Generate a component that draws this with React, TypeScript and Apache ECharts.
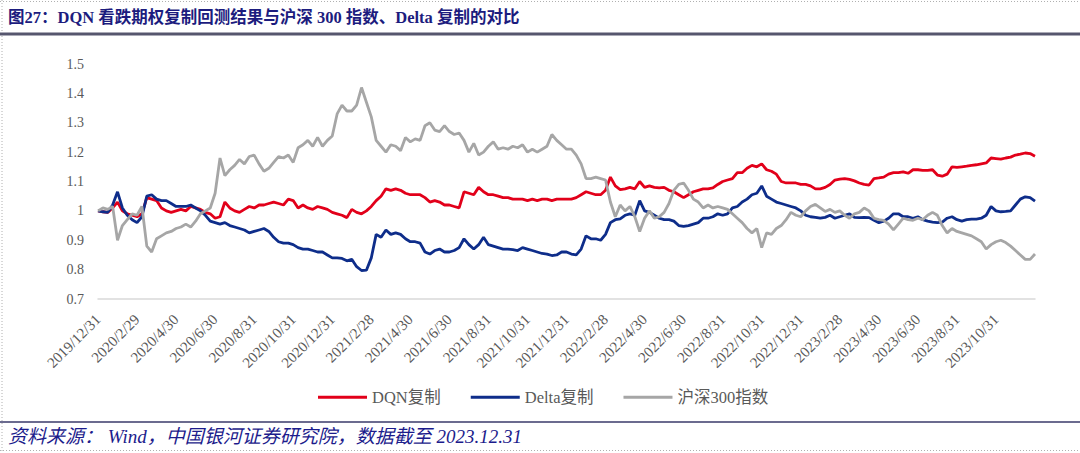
import React, { useEffect, useRef } from "react";
import * as echarts from "echarts";

// ---- data ----
const startDate = "2019/12/31";
const years = [2020, 2021, 2022, 2023];
const sampleDays = [8, 15, 23]; // weekly samples inside each month, plus the month end

const tickLabels = [
  "2019/12/31", "2020/2/29", "2020/4/30", "2020/6/30", "2020/8/31", "2020/10/31",
  "2020/12/31", "2021/2/28", "2021/4/30", "2021/6/30", "2021/8/31", "2021/10/31",
  "2021/12/31", "2022/2/28", "2022/4/30", "2022/6/30", "2022/8/31", "2022/10/31",
  "2022/12/31", "2023/2/28", "2023/4/30", "2023/6/30", "2023/8/31", "2023/10/31",
];

const yTicks = [0.7, 0.8, 0.9, 1.0, 1.1, 1.2, 1.3, 1.4, 1.5];

const legendNames = ["DQN复制", "Delta复制", "沪深300指数"];

const dqn = [
  1.0,
  0.997, 0.995, 1.01, 1.03, 1.0, 0.99, 0.985, 0.98,
  0.99, 1.045, 1.04, 1.035, 1.01, 1.0, 0.995, 1.0,
  1.005, 1.0, 1.015, 1.01, 1.005, 0.995, 0.99, 0.975,
  0.98, 1.03, 1.01, 1.0, 0.995, 1.005, 1.015, 1.01,
  1.02, 1.02, 1.025, 1.03, 1.025, 1.02, 1.04, 1.035,
  1.01, 1.02, 1.01, 1.005, 1.015, 1.01, 1.005, 0.995,
  0.99, 0.985, 0.977, 1.005, 0.995, 0.99, 1.0, 1.015,
  1.035, 1.05, 1.075, 1.07, 1.075, 1.07, 1.06, 1.055,
  1.055, 1.055, 1.045, 1.03, 1.035, 1.03, 1.02, 1.02,
  1.015, 1.01, 1.065, 1.06, 1.055, 1.08, 1.065, 1.055,
  1.055, 1.05, 1.045, 1.045, 1.04, 1.04, 1.04, 1.035,
  1.04, 1.035, 1.04, 1.04, 1.035, 1.04, 1.04, 1.04,
  1.04, 1.045, 1.055, 1.065, 1.06, 1.055, 1.055, 1.07,
  1.115, 1.085, 1.072, 1.075, 1.08, 1.075, 1.1, 1.08,
  1.085, 1.08, 1.078, 1.08, 1.07, 1.065, 1.055, 1.045,
  1.055, 1.065, 1.07, 1.075, 1.075, 1.078, 1.09, 1.1,
  1.105, 1.11, 1.13, 1.13, 1.145, 1.155, 1.15, 1.16,
  1.14, 1.135, 1.125, 1.1, 1.095, 1.095, 1.095, 1.09,
  1.09, 1.085, 1.075, 1.075, 1.08, 1.09, 1.105, 1.108,
  1.11, 1.107, 1.102, 1.095, 1.09, 1.088, 1.11, 1.112,
  1.115, 1.125, 1.13, 1.13, 1.133, 1.128, 1.14, 1.14,
  1.138, 1.138, 1.14, 1.122, 1.118, 1.125, 1.15, 1.148,
  1.15, 1.152, 1.155, 1.157, 1.16, 1.163, 1.18, 1.178,
  1.176, 1.18, 1.183, 1.19, 1.193, 1.197, 1.195, 1.186,
];

const delta = [
  1.0,
  0.997, 0.995, 1.02, 1.065, 1.01, 0.985, 0.97, 0.96,
  0.98, 1.05, 1.055, 1.04, 1.035, 1.035, 1.025, 1.015,
  1.015, 1.015, 1.02, 1.01, 1.0, 0.985, 0.965, 0.96,
  0.955, 0.96, 0.95, 0.945, 0.94, 0.935, 0.925, 0.93,
  0.935, 0.94, 0.93, 0.91, 0.895, 0.89, 0.89, 0.885,
  0.875, 0.87, 0.87, 0.865, 0.86, 0.86, 0.85, 0.84,
  0.84, 0.838, 0.83, 0.835, 0.81, 0.797, 0.798, 0.84,
  0.92, 0.91, 0.935, 0.92, 0.925, 0.92, 0.905, 0.895,
  0.895, 0.89, 0.86, 0.853, 0.865, 0.87, 0.86, 0.86,
  0.865, 0.875, 0.905, 0.885, 0.87, 0.885, 0.91, 0.885,
  0.88, 0.875, 0.87, 0.87, 0.868, 0.865, 0.875, 0.87,
  0.865, 0.86, 0.855, 0.853, 0.848, 0.85, 0.86, 0.86,
  0.853, 0.85, 0.87, 0.915, 0.905, 0.905, 0.9, 0.92,
  0.96, 0.97, 0.973, 0.985, 0.99, 0.985, 1.035, 1.0,
  0.995, 0.985, 0.975, 0.97, 0.97, 0.965, 0.95, 0.947,
  0.95, 0.955, 0.96, 0.975, 0.975, 0.98, 0.99, 0.985,
  0.99, 1.01, 1.015, 1.03, 1.04, 1.055, 1.06, 1.085,
  1.05, 1.04, 1.03, 1.025, 1.02, 1.015, 1.01, 1.0,
  0.985, 0.98, 0.978, 0.975, 0.978, 0.985, 0.975, 0.98,
  0.985, 0.99, 0.978, 0.977, 0.978, 0.977, 0.968, 0.96,
  0.965, 0.975, 0.99, 0.99, 0.98, 0.98, 0.975, 0.98,
  0.97, 0.965, 0.962, 0.96, 0.962, 0.975, 0.98, 0.97,
  0.965, 0.97, 0.972, 0.972, 0.975, 0.985, 1.015, 1.0,
  0.997, 0.998, 1.0, 1.02, 1.04, 1.048, 1.045, 1.033,
];

const hs300 = [
  1.0,
  1.01, 1.005, 1.015, 0.9, 0.95, 0.97, 0.99, 0.985,
  1.015, 0.88, 0.86, 0.905, 0.915, 0.925, 0.93, 0.94,
  0.945, 0.955, 0.945, 0.965, 0.99, 1.0, 1.01, 1.06,
  1.18, 1.12, 1.14, 1.155, 1.175, 1.16, 1.185, 1.19,
  1.16, 1.135, 1.145, 1.165, 1.185, 1.18, 1.19, 1.165,
  1.215, 1.225, 1.24, 1.22, 1.25, 1.22, 1.24, 1.255,
  1.33, 1.36, 1.34, 1.34, 1.36, 1.42, 1.37, 1.32,
  1.24, 1.22, 1.2, 1.225, 1.22, 1.205, 1.25, 1.235,
  1.245, 1.24, 1.29, 1.3, 1.275, 1.27, 1.29, 1.27,
  1.26, 1.265, 1.24, 1.2, 1.23, 1.19, 1.2, 1.22,
  1.235, 1.21, 1.215, 1.21, 1.22, 1.215, 1.225, 1.2,
  1.21, 1.2, 1.21, 1.22, 1.26, 1.24, 1.225, 1.21,
  1.21, 1.19, 1.16, 1.11, 1.11, 1.115, 1.11, 1.105,
  1.03, 0.98, 1.02, 1.0, 1.015, 0.98, 0.93, 0.975,
  1.0, 0.975, 0.98, 0.995, 1.025, 1.07, 1.09, 1.095,
  1.07, 1.04, 1.03, 1.01, 1.02, 1.01, 1.015, 1.01,
  1.005, 0.99, 0.975, 0.96, 0.94, 0.925, 0.94, 0.875,
  0.925, 0.92, 0.94, 0.95, 0.97, 0.995, 0.985, 0.98,
  1.0, 1.015, 1.022, 1.01, 0.998, 1.005, 0.995, 1.0,
  0.985, 0.975, 0.99, 0.995, 1.01, 1.0, 0.975, 0.97,
  0.968, 0.955, 0.935, 0.955, 0.975, 0.97, 0.968, 0.975,
  0.97, 0.985, 0.995, 0.985, 0.95, 0.925, 0.94, 0.93,
  0.925, 0.92, 0.915, 0.905, 0.895, 0.87, 0.885, 0.895,
  0.9, 0.892, 0.88, 0.865, 0.85, 0.835, 0.835, 0.853,
];

const titleText = "图27：DQN 看跌期权复制回测结果与沪深 300 指数、Delta 复制的对比";
const sourceText = "资料来源： Wind，中国银河证券研究院，数据截至 2023.12.31";

function buildCategories(): string[] {
  const cats = [startDate];
  for (const y of years) {
    for (let mo = 1; mo <= 12; mo++) {
      const last = new Date(y, mo, 0).getDate();
      for (const d of sampleDays) cats.push(`${y}/${mo}/${d}`);
      cats.push(`${y}/${mo}/${last}`);
    }
  }
  return cats;
}

const SERIF = "'Liberation Serif','Times New Roman','Noto Sans CJK SC',serif";

export default function App() {
  const ref = useRef<HTMLDivElement>(null);
  useEffect(() => {
    if (!ref.current) return;
    const chart = echarts.init(ref.current, null, { renderer: "svg" });
    const categories = buildCategories();
    const tickSet = new Set(tickLabels);
    const colors = ["#e2001a", "#0e2d8a", "#a6a6a6"];
    const seriesData = [dqn, delta, hs300];
    chart.setOption({
      animation: false,
      backgroundColor: "#ffffff",
      grid: { left: 98, right: 45, top: 64, bottom: 154, containLabel: false },
      legend: {
        data: legendNames,
        left: 313,
        top: 384,
        icon: "rect",
        itemWidth: 49,
        itemHeight: 3,
        itemGap: 30,
        textStyle: { color: "#595959", fontSize: 16.5, fontFamily: SERIF },
      },
      xAxis: {
        type: "category",
        data: categories,
        boundaryGap: false,
        axisLine: { lineStyle: { color: "#d9d9d9", width: 1.5 } },
        axisTick: { show: false },
        axisLabel: {
          interval: (_i: number, v: string) => tickSet.has(v),
          rotate: 45,
          margin: 18,
          color: "#595959",
          fontSize: 15,
          fontFamily: SERIF,
        },
        splitLine: { show: false },
      },
      yAxis: {
        type: "value",
        min: yTicks[0],
        max: yTicks[yTicks.length - 1],
        interval: 0.1,
        axisLine: { show: false },
        axisTick: { show: false },
        splitLine: { show: false },
        axisLabel: {
          margin: 14,
          color: "#595959",
          fontSize: 14,
          fontFamily: SERIF,
          formatter: (v: number) => String(parseFloat(v.toFixed(1))),
        },
      },
      series: legendNames.map((name, k) => ({
        name,
        type: "line",
        data: seriesData[k],
        symbol: "none",
        lineStyle: { color: colors[k], width: 2.8 },
        itemStyle: { color: colors[k] },
      })),
      graphic: [
        { type: "line", shape: { x1: 0, y1: 1.5, x2: 1080, y2: 1.5 }, style: { stroke: "#b0b0b0", lineWidth: 1, lineDash: [1, 2] } },
        { type: "line", shape: { x1: 2, y1: 0, x2: 2, y2: 453 }, style: { stroke: "#b0b0b0", lineWidth: 1, lineDash: [1, 2] } },
        { type: "line", shape: { x1: 0, y1: 450.5, x2: 1080, y2: 450.5 }, style: { stroke: "#b0b0b0", lineWidth: 1, lineDash: [1, 2] } },
        {
          type: "text",
          left: 8,
          top: 9,
          style: { text: titleText, fill: "#1c1c7e", font: `bold 16.5px ${SERIF}` },
        },
        { type: "line", shape: { x1: 0, y1: 34, x2: 1080, y2: 34 }, style: { stroke: "#56566e", lineWidth: 3 } },
        { type: "line", shape: { x1: 0, y1: 422, x2: 1080, y2: 422 }, style: { stroke: "#3a3a6a", lineWidth: 1.5 } },
        {
          type: "text",
          left: 8,
          top: 427,
          style: { text: sourceText, fill: "#1c1c8c", font: `italic 19px ${SERIF}` },
        },
      ],
    });
    return () => chart.dispose();
  }, []);
  return (
    <div
      ref={ref}
      style={{ position: "fixed", left: 0, top: 0, width: 1080, height: 453, background: "#fff" }}
    />
  );
}
